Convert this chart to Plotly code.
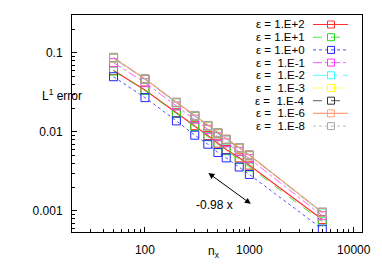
import plotly.graph_objects as go
import math

nx = [50, 100, 200, 300, 400, 500, 600, 800, 1000, 5000]

labels = ["ε = 1.E+2", "ε = 1.E+1", "ε = 1.E+0", "ε =  1.E-1", "ε =  1.E-2",
          "ε =  1.E-3", "ε =  1.E-4", "ε =  1.E-6", "ε =  1.E-8"]

err_e2p = [0.060, 0.0340, 0.0175, 0.0120, 0.0090, 0.0072, 0.0060, 0.0047, 0.0038, 0.00078]
err_e1p = [0.059, 0.0335, 0.0171, 0.0117, 0.0087, 0.0069, 0.0058, 0.0045, 0.0036, 0.00073]
err_e0 = [0.050, 0.0272, 0.0138, 0.0091, 0.0070, 0.0055, 0.0047, 0.0036, 0.0029, 0.00059]
err_e1m = [0.0754, 0.0420, 0.0213, 0.0145, 0.0108, 0.0087, 0.0073, 0.0057, 0.0046, 0.00087]
err_e2m = [0.0850, 0.0460, 0.0232, 0.0158, 0.0118, 0.0095, 0.0079, 0.0062, 0.0050, 0.00094]
err_e3m = [0.0860, 0.0465, 0.0234, 0.0159, 0.0119, 0.0096, 0.0080, 0.0062, 0.0050, 0.00095]
err_e4m = [0.0870, 0.0468, 0.0236, 0.0160, 0.0120, 0.0097, 0.0080, 0.0063, 0.0051, 0.00096]
err_e6m = [0.0865, 0.0470, 0.0237, 0.0161, 0.0120, 0.0097, 0.0081, 0.0063, 0.0051, 0.00096]
err_e8m = [0.0880, 0.0470, 0.0238, 0.0162, 0.0121, 0.0098, 0.0081, 0.0063, 0.0051, 0.00097]

series = [err_e2p, err_e1p, err_e0, err_e1m, err_e2m, err_e3m, err_e4m, err_e6m, err_e8m]
colors = ["#ff3030", "#22dd22", "#2222ff", "#ff33ff", "#33ffff", "#ffff33", "#333333", "#ffa080", "#a8a8a8"]
dashes = ["solid", "dash", "dot", "dashdot", "longdashdot", "dashdot", "dash", "solid", "dot"]
widths = [1.2, 0.8, 0.8, 0.8, 0.8, 0.8, 0.8, 1.2, 0.8]

x_ticks = [100, 1000, 10000]
x_ticktext = ["100", "1000", "10000"]
y_ticks = [0.001, 0.01, 0.1]
y_ticktext = ["0.001", "0.01", "0.1"]

# page body has an 8px margin; compensate so the plot lands where the reference has it
OFF = 8
W, H = 382 - OFF, 267 - OFF
L, R, T, B = 72 - OFF, 20, 15 - OFF, 35
pw, ph = W - L - R, H - T - B
FS = 12

fig = go.Figure()
for vals, lab, c, d, w in zip(series, labels, colors, dashes, widths):
    fig.add_trace(go.Scatter(
        x=nx, y=vals, name=lab, mode="lines+markers",
        line=dict(color=c, width=w, dash=d),
        marker=dict(symbol="square-open", size=8, color=c, line=dict(width=1, color=c)),
        showlegend=False,
    ))

def px2paper(px, py):
    # px, py are window pixel coordinates of the reference image
    return (px - OFF - L) / pw, (H - B - (py - OFF)) / ph

shapes = []
annots = []
row0, dy = 24.5, 12.7
for i, (lab, c, d, w) in enumerate(zip(labels, colors, dashes, widths)):
    py = row0 + i * dy
    tx, ty = px2paper(306, py)
    annots.append(dict(x=tx, y=ty, xref="paper", yref="paper", text=lab, showarrow=False,
                       xanchor="right", yanchor="middle", borderpad=0,
                       font=dict(size=11.5, color="#000")))
    x0, y0 = px2paper(313, py)
    x1, _ = px2paper(348, py)
    shapes.append(dict(type="line", xref="paper", yref="paper", x0=x0, x1=x1, y0=y0, y1=y0,
                       line=dict(color=c, width=w, dash=d)))
    mx0, my0 = px2paper(327.5, py + 3.5)
    mx1, my1 = px2paper(334.5, py - 3.5)
    shapes.append(dict(type="rect", xref="paper", yref="paper", x0=mx0, x1=mx1, y0=my0, y1=my1,
                       line=dict(color=c, width=1), fillcolor="rgba(0,0,0,0)"))

# slope arrow (double-headed) and label, log10 coords
annots.append(dict(x=math.log10(1033), y=math.log10(0.00123), ax=math.log10(392), ay=math.log10(0.00312),
                   xref="x", yref="y", axref="x", ayref="y", text="", showarrow=True,
                   arrowhead=2, startarrowhead=2, arrowside="end+start", arrowwidth=1,
                   arrowsize=1.2, startarrowsize=1.2, arrowcolor="#000"))
annots.append(dict(x=math.log10(468), y=math.log10(0.00119), xref="x", yref="y", text="-0.98 x",
                   showarrow=False, font=dict(size=FS, color="#000")))

# axis titles
tx, ty = px2paper(40, 95)
annots.append(dict(x=tx, y=ty, xref="paper", yref="paper", text="L<sup>1</sup> error", showarrow=False,
                   font=dict(size=FS, color="#000")))
tx, ty = px2paper(214, 242)
annots.append(dict(x=tx, y=ty, xref="paper", yref="paper", text="n<sub>x</sub>", showarrow=False,
                   yanchor="top", font=dict(size=FS, color="#000")))

fig.update_layout(
    width=W, height=H,
    margin=dict(l=L, r=R, t=T, b=B, pad=0),
    paper_bgcolor="white", plot_bgcolor="white",
    font=dict(family="Liberation Sans, Arial, sans-serif", size=FS, color="#000"),
    shapes=shapes, annotations=annots,
    xaxis=dict(type="log", range=[math.log10(20), math.log10(12000)],
               tickvals=x_ticks, ticktext=x_ticktext, ticks="inside", ticklen=5,
               tickcolor="#000", showline=True, linecolor="#000", linewidth=1, mirror=True,
               showgrid=False, zeroline=False, ticklabelstandoff=7,
               minor=dict(ticks="inside", ticklen=3, tickcolor="#000", dtick="D1", showgrid=False)),
    yaxis=dict(type="log", range=[math.log10(0.000542), math.log10(0.302)],
               tickvals=y_ticks, ticktext=y_ticktext, ticks="inside", ticklen=5,
               tickcolor="#000", showline=True, linecolor="#000", linewidth=1, mirror=True,
               showgrid=False, zeroline=False, ticklabelstandoff=6,
               minor=dict(ticks="inside", ticklen=3, tickcolor="#000", dtick="D1", showgrid=False)),
)

fig.write_html("out.html")
